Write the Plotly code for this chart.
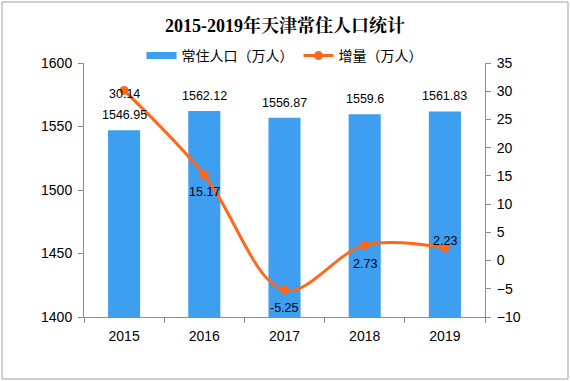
import plotly.graph_objects as go

years = ["2015", "2016", "2017", "2018", "2019"]
population = [1546.95, 1562.12, 1556.87, 1559.6, 1561.83]
pop_labels = ["1546.95", "1562.12", "1556.87", "1559.6", "1561.83"]
increase = [30.14, 15.17, -5.25, 2.73, 2.23]
inc_labels = ["30.14", "15.17", "-5.25", "2.73", "2.23"]
inc_label_shift = [-4, -17, -18, -19, 7]

BAR = "#3E9EEF"
LINE = "#FF671A"
AX = "#8C8C8C"
W, H = 570, 381
ML, MR, MT, MB = 84, 85, 63, 64

fig = go.Figure()
fig.add_trace(go.Bar(
    x=years, y=population, name="常住人口（万人）",
    marker=dict(color=BAR, line=dict(width=0)),
    showlegend=False,
))
# legend proxy: wide flat blue swatch like the reference legend
fig.add_trace(go.Scatter(
    x=[None], y=[None], name="常住人口（万人）", mode="lines",
    line=dict(color=BAR, width=7),
))
fig.add_trace(go.Scatter(
    x=years, y=increase, name="增量（万人）",
    mode="lines+markers",
    line=dict(color=LINE, width=3, shape="spline", smoothing=1),
    marker=dict(color=LINE, size=9),
    yaxis="y2",
))

lab_font = dict(family="Liberation Sans, Arial", size=12.5, color="#000")
anns = []
# category axis: annotation x given as category index
for i, (v, t) in enumerate(zip(population, pop_labels)):
    anns.append(dict(x=i, y=v, xref="x", yref="y", text=t,
                     showarrow=False, yshift=15, font=lab_font))
for i, (v, t, s) in enumerate(zip(increase, inc_labels, inc_label_shift)):
    anns.append(dict(x=i, y=v, xref="x", yref="y2", text=t,
                     showarrow=False, yshift=s, font=lab_font))

pw = W - ML - MR
ph = H - MT - MB
tick_font = dict(family="Liberation Sans, Arial", size=14, color="#000")
fig.update_layout(
    width=W, height=H,
    margin=dict(l=ML, r=MR, t=MT, b=MB, autoexpand=False),
    paper_bgcolor="white", plot_bgcolor="white",
    bargap=0.6,
    showlegend=True,
    title=dict(text="<b>2015-2019年天津常住人口统计</b>", x=0.5, xanchor="center",
               y=1 - 26 / H, yanchor="middle",
               font=dict(family="Liberation Serif, Noto Serif CJK SC, Noto Sans CJK SC", size=18, color="#000")),
    legend=dict(orientation="h", x=0.5, xanchor="center", y=1 + 7 / ph,
                yanchor="middle", font=dict(family="Noto Sans CJK SC", size=14, color="#000"),
                bgcolor="rgba(0,0,0,0)", itemwidth=30, tracegroupgap=0),
    xaxis=dict(type="category", categoryorder="array", categoryarray=years,
               range=[-0.5, len(years) - 0.5],
               showline=True, linecolor=AX, linewidth=1,
               ticks="outside", ticklen=5, tickcolor=AX, tickson="boundaries",
               ticklabelstandoff=6,
               showgrid=False, tickfont=tick_font),
    yaxis=dict(range=[1400, 1600], dtick=50, showline=True, linecolor=AX, linewidth=1,
               ticks="outside", ticklen=5, tickcolor=AX, showgrid=False, zeroline=False,
               ticklabelstandoff=3, tickfont=tick_font),
    yaxis2=dict(range=[-10, 35], dtick=5, overlaying="y", side="right", showline=True,
                linecolor=AX, linewidth=1, ticks="outside", ticklen=5, tickcolor=AX,
                showgrid=False, zeroline=False, ticklabelstandoff=3, tickfont=tick_font),
    annotations=anns,
    shapes=[dict(type="rect", xref="paper", yref="paper",
                 x0=(2 - ML) / pw, x1=(W - 2 - ML) / pw,
                 y0=-(MB - 2) / ph, y1=1 + (MT - 2) / ph,
                 line=dict(color="#A0A0A0", width=1), layer="below")],
)

fig.write_html("out.html", config={"displayModeBar": False},
               post_script="document.body.style.margin='0';document.body.style.overflow='hidden';")
